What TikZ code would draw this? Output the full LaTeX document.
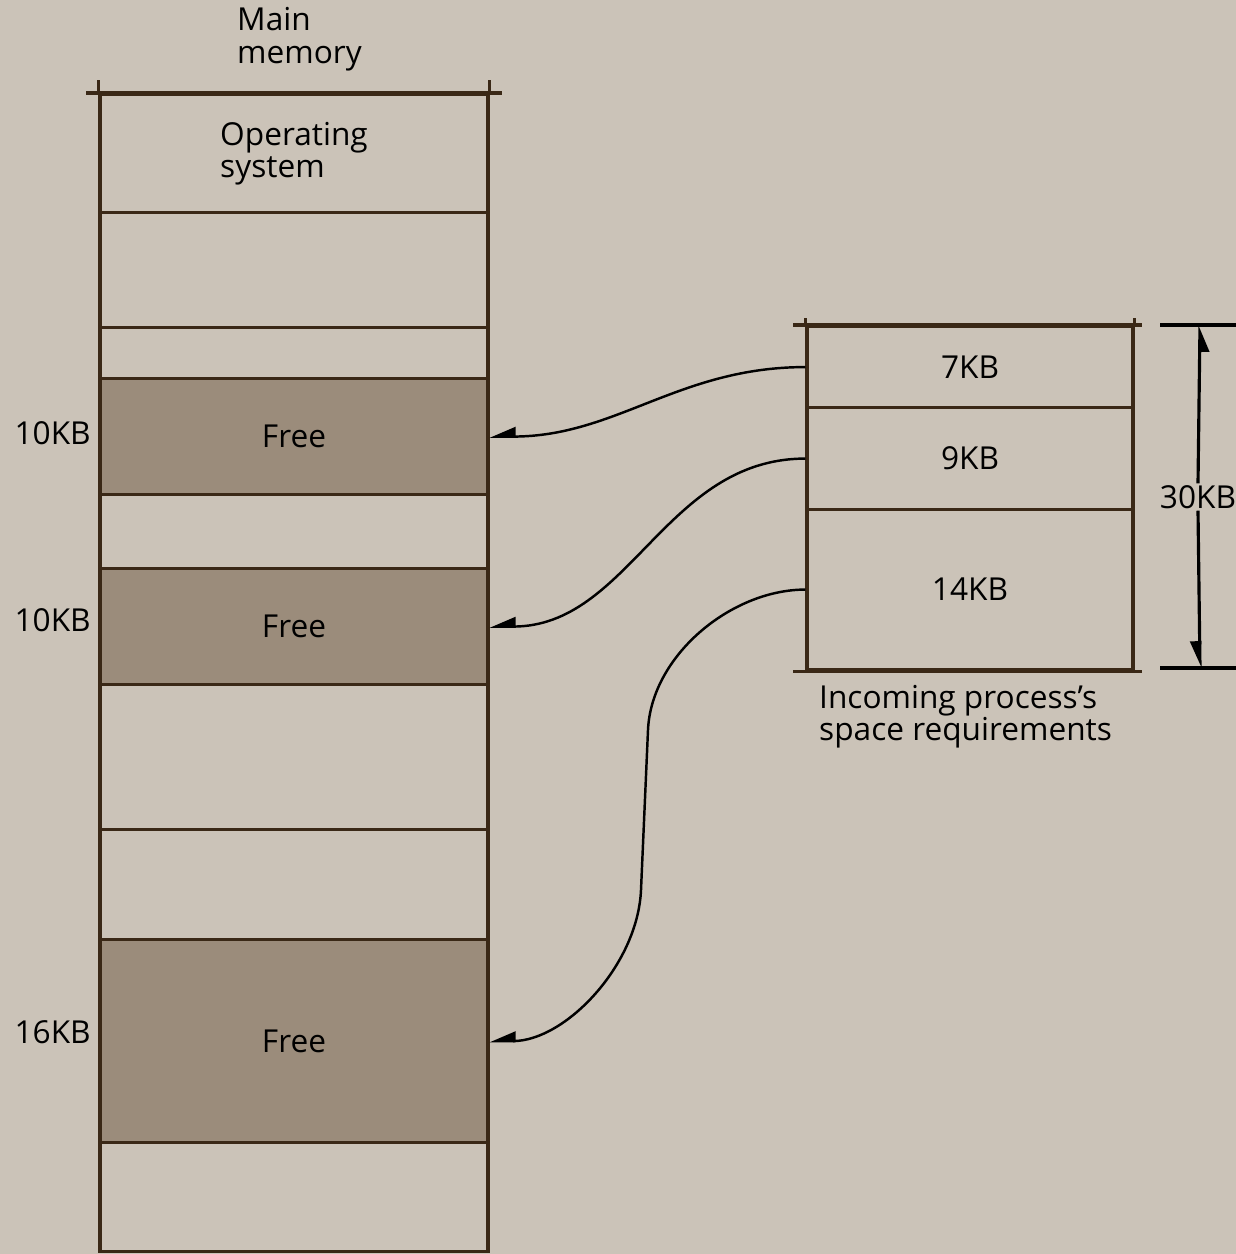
\documentclass[tikz,border=0pt]{standalone}
\usepackage{fontspec}
\setmainfont{Open Sans}
\usetikzlibrary{arrows.meta,positioning}
\definecolor{paper}{HTML}{CBC3B8}
\definecolor{wallc}{HTML}{3A2816}
\definecolor{freec}{HTML}{9B8C7B}

\begin{document}
\begin{tikzpicture}[x=0.02cm,y=-0.02cm,
  font=\fontsize{18}{18.5}\selectfont,
  wall/.style={draw=wallc,line width=1.8pt},
  memblk/.style={wall,minimum width=7.76cm,inner sep=0pt,anchor=north,align=left},
  freeblk/.style={memblk,fill=freec},
  reqblk/.style={wall,minimum width=6.52cm,inner sep=0pt,anchor=north},
  sizelbl/.style={anchor=east,inner sep=0pt},
  arr/.style={-{Triangle[harpoon,swap,length=4.6mm,width=3.8mm]},line width=1.4pt,black},
  dimarr/.style={arr,line width=1.8pt}]
  \useasboundingbox (0,0) rectangle (1236,1254);
  \fill[paper] (0,0) rectangle (1236,1254);
  % main memory column
  \node[anchor=west,align=left] (title) at (231,39) {Main\\memory};
  \node[memblk,minimum height=2.36cm] (os) at (294,93) {Operating\\system};
  \node[memblk,minimum height=2.30cm] (m2) at (294,211) {};
  \node[memblk,minimum height=1.02cm] (m3) at (294,326) {};
  \node[freeblk,minimum height=2.32cm] (f1) at (294,377) {Free};
  \node[memblk,minimum height=1.48cm] (m5) at (294,493) {};
  \node[freeblk,minimum height=2.32cm] (f2) at (294,567) {Free};
  \node[memblk,minimum height=2.90cm] (m7) at (294,683) {};
  \node[memblk,minimum height=2.20cm] (m8) at (294,828) {};
  \node[freeblk,minimum height=4.06cm] (f3) at (294,938) {Free};
  \node[memblk,minimum height=2.18cm] (m10) at (294,1141) {};
  \draw[wall] ([xshift=-2.4mm]os.north west) -- ([xshift=2.4mm]os.north east);
  \draw[wall] ([yshift=2.6mm]os.north west) -- (os.north west);
  \draw[wall] ([yshift=2.6mm]os.north east) -- (os.north east);
  \node[sizelbl] (s1) at (91,433) {10KB};
  \node[sizelbl] (s2) at (91,620) {10KB};
  \node[sizelbl] (s3) at (91,1032) {16KB};
  % incoming process
  \node[reqblk,minimum height=1.62cm] (p7) at (970,325) {7KB};
  \node[reqblk,minimum height=2.04cm] (p9) at (970,406) {9KB};
  \node[reqblk,minimum height=3.20cm] (p14) at (970,508) {14KB};
  \draw[wall] ([xshift=-2.4mm]p7.north west) -- ([xshift=1.4mm]p7.north east);
  \draw[wall] ([xshift=-2.4mm]p14.south west) -- ([xshift=1.4mm]p14.south east);
  \draw[wall] ([yshift=1.4mm]p7.north west) -- (p7.north west);
  \draw[wall] ([yshift=1.4mm]p7.north east) -- (p7.north east);
  \node[anchor=north west,align=left] (cap) at (813,679) {Incoming process’s\\space requirements};
  % overall size
  \coordinate (dtop) at (1200,325);
  \coordinate (dbot) at (1200,668);
  \draw[line width=1.8pt] (1160,325) -- (1236,325);
  \draw[line width=1.8pt] (1160,668) -- (1236,668);
  \node[inner sep=1pt] (dim) at (1198,497) {30KB};
  \draw[dimarr] (dim.north) -- (dtop);
  \draw[dimarr] (dim.south) -- (dbot);
  % placements
  \draw[arr] (p7.west) to[out=180,in=0] (f1.east);
  \draw[arr] (p9.west) to[out=180,in=0] (f2.east);
  \draw[arr] (p14.west) to[out=180,in=87.5,looseness=0.9] (648,730)
    -- (641,890) to[out=267.5,in=0,looseness=0.9] (f3.east);
\end{tikzpicture}
\end{document}
